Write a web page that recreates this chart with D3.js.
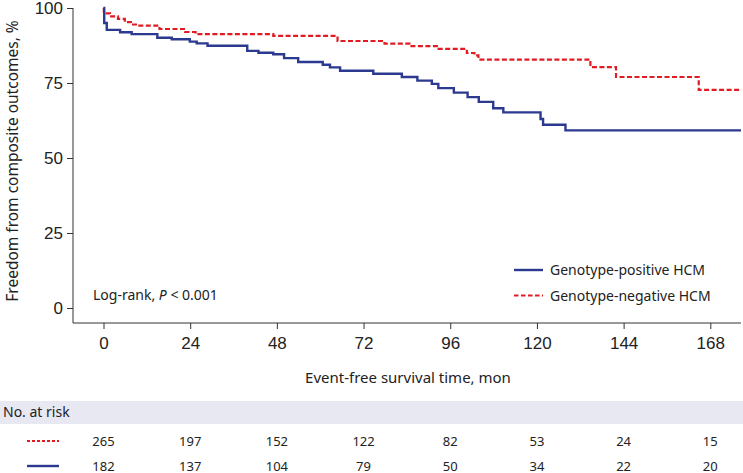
<!DOCTYPE html>
<html>
<head>
<meta charset="utf-8">
<script src="https://cdn.jsdelivr.net/npm/d3@7/dist/d3.min.js"></script>
<style>
	body { margin: 0; background: #fff; }
	.tick text { font-family: "Liberation Sans", Arial, sans-serif; font-size: 17px; fill: #222; }
	.domain, .tick line { stroke: #333; }
	.label { font-family: "Noto Sans", sans-serif; fill: #222; }
</style>
</head>
<body>
<svg id="chart" width="743" height="473"></svg>
<script>
// survival steps (months, % event-free)
var posTimes = [0, 0.2, 0.9, 4.6, 7.8, 14.9, 18.9, 23.9, 25.8, 28.8, 39.8, 42.9, 47.0, 50.0, 53.9, 60.7, 62.7, 65.5, 74.7, 82.6, 86.9, 90.9, 92.7, 97.0, 100.8, 103.9, 107.9, 110.7, 121.0, 121.7, 127.9, 176.5];
var posSurv = [100, 95.0, 92.7, 91.9, 91.3, 90.1, 89.6, 88.8, 88.2, 87.4, 85.7, 85.1, 84.6, 83.3, 82.0, 81.1, 80.2, 79.1, 78.1, 77.0, 75.8, 74.7, 73.3, 71.8, 70.3, 68.7, 66.6, 65.2, 63.0, 61.1, 59.2, 59.2];

var negTimes = [0, 0.1, 1.8, 4.0, 5.9, 7.6, 9.3, 15.5, 22.6, 25.5, 47.0, 64.8, 77.8, 84.7, 92.8, 100.6, 102.7, 103.8, 134.8, 141.9, 164.8, 176.5];
var negSurv = [100, 98.2, 97.2, 96.4, 95.3, 94.5, 94.1, 93.0, 92.0, 91.3, 90.7, 89.0, 88.1, 87.3, 86.4, 85.0, 84.2, 82.8, 80.3, 77.0, 72.7, 72.7];

var xTicks = [0, 24, 48, 72, 96, 120, 144, 168];
var yTicks = [0, 25, 50, 75, 100];

var riskNeg = [265, 197, 152, 122, 82, 53, 24, 15];
var riskPos = [182, 137, 104, 79, 50, 34, 22, 20];

var BLUE = '#2b3990', RED = '#e01b22';

var svg = d3.select('#chart');

var x = d3.scaleLinear().domain([0, 176.5]).range([103.5, 741]);
var y = d3.scaleLinear().domain([0, 100]).range([308, 8]);

// axes: x axis sits below the zero line, y axis left of the first tick
svg.append('g')
	.attr('transform', 'translate(0,323)')
	.call(d3.axisBottom(x).tickValues(xTicks).tickSize(6).tickPadding(8).tickSizeOuter(0))
	.call(function (g) {
		g.select('.domain').attr('d', 'M73,0H741');
	});

svg.append('g')
	.attr('transform', 'translate(73,0)')
	.call(d3.axisLeft(y).tickValues(yTicks).tickSize(6).tickPadding(4).tickSizeOuter(0))
	.call(function (g) {
		g.select('.domain').attr('d', 'M0,' + y(100) + 'V323');
	});

function toPoints(times, surv) {
	return times.map(function (t, i) { return [t, surv[i]]; });
}

var line = d3.line()
	.x(function (d) { return x(d[0]); })
	.y(function (d) { return y(d[1]); })
	.curve(d3.curveStepAfter);

svg.append('path')
	.datum(toPoints(negTimes, negSurv))
	.attr('d', line)
	.attr('fill', 'none')
	.attr('stroke', RED)
	.attr('stroke-width', 2.2)
	.attr('stroke-dasharray', '5,2.5');

svg.append('path')
	.datum(toPoints(posTimes, posSurv))
	.attr('d', line)
	.attr('fill', 'none')
	.attr('stroke', BLUE)
	.attr('stroke-width', 2.4);

// axis titles
svg.append('text')
	.attr('class', 'label')
	.attr('transform', 'translate(18,161) rotate(-90)')
	.attr('text-anchor', 'middle')
	.style('font-size', '15.5px')
	.text('Freedom from composite outcomes, %');

svg.append('text')
	.attr('class', 'label')
	.attr('x', 408)
	.attr('y', 383)
	.attr('text-anchor', 'middle')
	.style('font-size', '15px')
	.text('Event-free survival time, mon');

// log-rank note
var note = svg.append('text')
	.attr('class', 'label')
	.attr('x', 93)
	.attr('y', 300)
	.style('font-size', '14px');
note.append('tspan').text('Log-rank, ');
note.append('tspan').style('font-style', 'italic').text('P');
note.append('tspan').text(' < 0.001');

// legend
var legendItems = [
	{ label: 'Genotype-positive HCM', color: BLUE, dash: null, width: 2.4 },
	{ label: 'Genotype-negative HCM', color: RED, dash: '4.5,2.5', width: 2.2 }
];
legendItems.forEach(function (item, i) {
	var ly = 270 + i * 25.5;
	svg.append('line')
		.attr('x1', 514).attr('x2', 543)
		.attr('y1', ly).attr('y2', ly)
		.attr('stroke', item.color)
		.attr('stroke-width', item.width)
		.attr('stroke-dasharray', item.dash);
	svg.append('text')
		.attr('class', 'label')
		.attr('x', 550)
		.attr('y', ly + 5)
		.style('font-size', '14px')
		.text(item.label);
});

// number at risk table
svg.append('rect')
	.attr('x', 0).attr('y', 401)
	.attr('width', 743).attr('height', 23)
	.attr('fill', '#e8e8f3');

svg.append('text')
	.attr('class', 'label')
	.attr('x', 3)
	.attr('y', 417)
	.style('font-size', '14px')
	.text('No. at risk');

var rows = [
	{ counts: riskNeg, color: RED, dash: '3,2', width: 2, y: 441 },
	{ counts: riskPos, color: BLUE, dash: null, width: 2.4, y: 466 }
];
rows.forEach(function (row) {
	svg.append('line')
		.attr('x1', 27).attr('x2', 59)
		.attr('y1', row.y).attr('y2', row.y)
		.attr('stroke', row.color)
		.attr('stroke-width', row.width)
		.attr('stroke-dasharray', row.dash);

	svg.selectAll(null)
		.data(row.counts)
		.enter()
		.append('text')
		.attr('class', 'label')
		.attr('x', function (d, i) { return x(xTicks[i]); })
		.attr('y', row.y + 4.5)
		.attr('text-anchor', 'middle')
		.style('font-size', '13px')
		.text(function (d) { return d; });
});
</script>
</body>
</html>
